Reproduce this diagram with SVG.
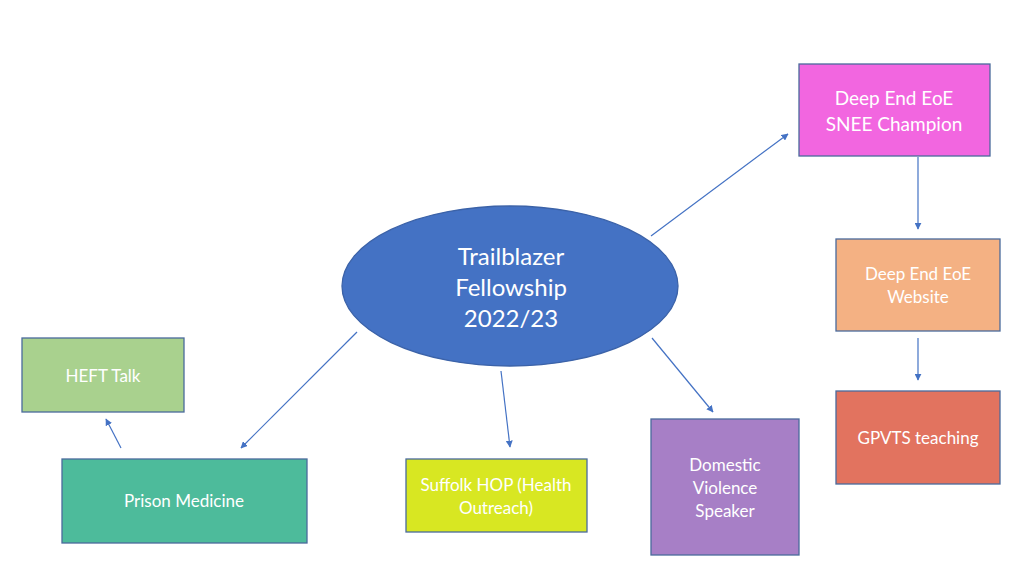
<svg xmlns="http://www.w3.org/2000/svg" width="1024" height="576" viewBox="0 0 1024 576">
<style>
.box{stroke:#4a6a9c;stroke-width:1.3}
.t{font-family:Lato,"Open Sans","Liberation Sans",sans-serif;fill:#ffffff;text-anchor:middle}
.s{font-size:17px}
.c{stroke:#4472C4;stroke-width:1.2;fill:none;marker-end:url(#ah)}
</style>
<defs>
<marker id="ah" viewBox="0 0 10 10" refX="9" refY="5" markerWidth="7" markerHeight="7" markerUnits="userSpaceOnUse" orient="auto">
<path d="M0,0 L10,5 L0,10 z" fill="#4472C4"/>
</marker>
</defs>
<rect width="1024" height="576" fill="#ffffff"/>
<g id="connectors">
<line class="c" x1="651" y1="236" x2="788" y2="134"/>
<line class="c" x1="918" y1="157" x2="918" y2="229"/>
<line class="c" x1="918" y1="338" x2="918" y2="380"/>
<line class="c" x1="357" y1="332" x2="241" y2="448"/>
<line class="c" x1="121" y1="448" x2="106" y2="419"/>
<line class="c" x1="501" y1="371" x2="510" y2="447"/>
<line class="c" x1="652" y1="338" x2="713" y2="412"/>
</g>
<g id="trailblazer">
<ellipse cx="510" cy="286" rx="168" ry="80" fill="#4472C4" stroke="#3b62a8" stroke-width="1.3"/>
<text class="t" x="511" y="265" font-size="24">Trailblazer</text>
<text class="t" x="511" y="296" font-size="24">Fellowship</text>
<text class="t" x="511" y="327" font-size="24">2022/23</text>
</g>
<g id="snee">
<rect class="box" x="799" y="64" width="191" height="92" fill="#F266E0"/>
<text class="t" x="894" y="105" font-size="19">Deep End EoE</text>
<text class="t" x="894" y="131" font-size="19">SNEE Champion</text>
</g>
<g id="website">
<rect class="box" x="836" y="239" width="164" height="92" fill="#F4B183"/>
<text class="t s" x="918" y="280">Deep End EoE</text>
<text class="t s" x="918" y="303">Website</text>
</g>
<g id="gpvts">
<rect class="box" x="836" y="391" width="164" height="93" fill="#E2735F"/>
<text class="t s" x="918" y="444">GPVTS teaching</text>
</g>
<g id="heft">
<rect class="box" x="22" y="338" width="162" height="74" fill="#A9D18E"/>
<text class="t s" x="103" y="382">HEFT Talk</text>
</g>
<g id="prison">
<rect class="box" x="62" y="459" width="245" height="84" fill="#4DBB9B"/>
<text class="t s" x="184" y="507">Prison Medicine</text>
</g>
<g id="suffolk">
<rect class="box" x="406" y="459" width="181" height="73" fill="#D8E722"/>
<text class="t s" x="496" y="491">Suffolk HOP (Health</text>
<text class="t s" x="496" y="514">Outreach)</text>
</g>
<g id="domestic">
<rect class="box" x="651" y="419" width="148" height="136" fill="#A77FC6"/>
<text class="t s" x="725" y="471">Domestic</text>
<text class="t s" x="725" y="494">Violence</text>
<text class="t s" x="725" y="517">Speaker</text>
</g>
</svg>
